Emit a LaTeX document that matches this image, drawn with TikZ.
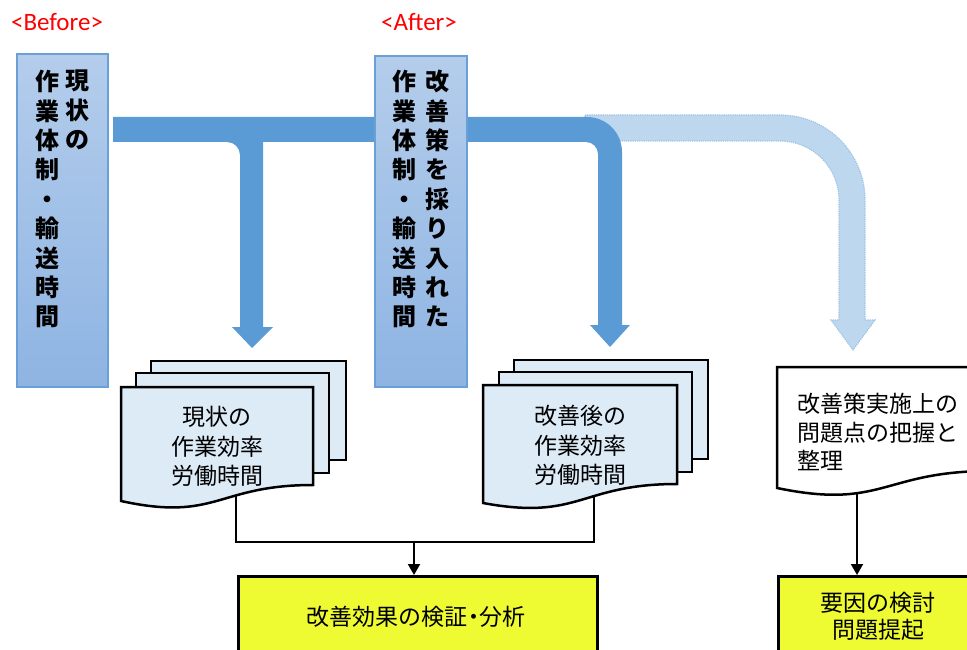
\documentclass[tikz,border=0pt]{standalone}
\usepackage{fontspec}
\setmainfont{Noto Sans CJK JP}
\newfontfamily\latinfont{Carlito}
\usetikzlibrary{arrows.meta}
\definecolor{arrowblue}{HTML}{5B9BD5}
\definecolor{lightarrow}{HTML}{BDD7EE}
\definecolor{lightedge}{HTML}{9DC3E6}
\definecolor{boxtop}{HTML}{B4CDEB}
\definecolor{boxbot}{HTML}{8EB4E3}
\definecolor{boxedge}{HTML}{6A9FD8}
\definecolor{docfill}{HTML}{DDEBF7}
\definecolor{yel}{HTML}{EEFB33}
\begin{document}
\begin{tikzpicture}[x=1pt,y=-1pt,
  bluebox/.style={draw=boxedge, line width=2pt, top color=boxtop, bottom color=boxbot, inner sep=0pt},
  vlabel/.style={font=\bfseries\fontsize{24}{29.4}\selectfont, align=center, inner sep=0pt, anchor=north},
  doctext/.style={font=\fontsize{23}{29.5}\selectfont, align=center, inner sep=0pt, anchor=north},
  sheet/.style={draw=black, line width=2.5pt, fill=docfill, line join=miter},
  ybox/.style={draw=black, line width=2.5pt, fill=yel, inner sep=0pt, anchor=north west},
  conn/.style={draw=black, line width=2pt},
  tip/.style={-{Triangle[length=11pt,width=12pt]}},
  tag/.style={font=\latinfont\fontsize{25}{28}\selectfont, text=red, inner sep=0pt}
]
\useasboundingbox (0,0) rectangle (967,650);
\clip (0,0) rectangle (967,650);

% labels
\node[tag] (tbefore) at (57,22) {<Before>};
\node[tag] (tafter) at (419,22) {<After>};

% light (planned) arrow
\filldraw[fill=lightarrow, draw=lightedge, densely dotted, line width=1.2pt]
  (585,115) -- (780,115) arc[start angle=-90,end angle=0,radius=85]
  -- (865,320) -- (875,320) -- (853,350) -- (831,320) -- (839,320)
  -- (839,200) arc[start angle=0,end angle=-90,radius=59] -- (585,141) -- cycle;

% dark band + arrows
\fill[arrowblue] (113,117) -- (587,117) arc[start angle=-90, end angle=0, radius=35]
  -- (622,325) -- (630,325) -- (610,347) -- (590,325) -- (598,325)
  -- (598,154) arc[start angle=0, end angle=-90, radius=12] -- (113,142) -- cycle;
\fill[arrowblue] (227,142) arc[start angle=-90, end angle=0, radius=13]
  -- (240,327) -- (232,327) -- (252,348) -- (273,327) -- (263,327)
  -- (263,130) -- (227,130) -- cycle;

% before / after boxes
\node[bluebox, minimum width=91, minimum height=333, anchor=north west] (before) at (16,53) {};
\node[bluebox, minimum width=92, minimum height=331, anchor=north west] (after) at (374,55) {};
\node[vlabel] (b1) at (77,70) {現\\状\\の};
\node[vlabel] (b2) at (47,70) {作\\業\\体\\制\\・\\輸\\送\\時\\間};
\node[vlabel] (a1) at (437,70) {改\\善\\策\\を\\採\\り\\入\\れ\\た};
\node[vlabel] (a2) at (404,70) {作\\業\\体\\制\\・\\輸\\送\\時\\間};

% document stacks
\draw[sheet] (151,361) rectangle (346,460);
\draw[sheet] (136,373) rectangle (329,473);
\draw[sheet] (121,387) -- (313,387) -- (313,485) .. controls (217,485) and (217,522) .. (121,501) -- cycle;
\node[doctext] (d1) at (217,406) {現状の\\作業効率\\労働時間};

\draw[sheet] (514,360) rectangle (708,459);
\draw[sheet] (499,372) rectangle (692,472);
\draw[sheet] (483,385) -- (677,385) -- (677,484) .. controls (580,484) and (580,521) .. (483,503) -- cycle;
\node[doctext] (d2) at (580,405) {改善後の\\作業効率\\労働時間};

\draw[sheet, fill=white] (777,367) -- (990,367) -- (990,471) .. controls (883,471) and (883,510) .. (777,488) -- cycle;
\node[font=\fontsize{23}{28.5}\selectfont, align=left, inner sep=0pt, anchor=north west] (d3) at (797,393) {改善策実施上の\\問題点の把握と\\整理};

% yellow boxes
\node[ybox, minimum width=359, minimum height=120] (eff) at (237,575) {};
\node[font=\fontsize{23}{27}\selectfont, inner sep=0pt] (efft) at (416,617) {改善効果の検証\hspace{-0.25em}・\hspace{-0.25em}分析};
\node[ybox, minimum width=230, minimum height=120] (fac) at (777,575) {};
\node[font=\fontsize{23}{27}\selectfont, align=center, inner sep=0pt] (fact) at (878,616.5) {要因の検討\\問題提起};

% connectors
\coordinate (d1b) at (236,495);
\coordinate (d2b) at (594,495);
\coordinate (join) at (414,542);
\coordinate (d3b) at (857,493);
\draw[conn] (d1b) |- (join);
\draw[conn] (d2b) |- (join);
\draw[conn, tip] (join) -- (join |- eff.north);
\draw[conn, tip] (d3b) -- (d3b |- fac.north);
\end{tikzpicture}
\end{document}
